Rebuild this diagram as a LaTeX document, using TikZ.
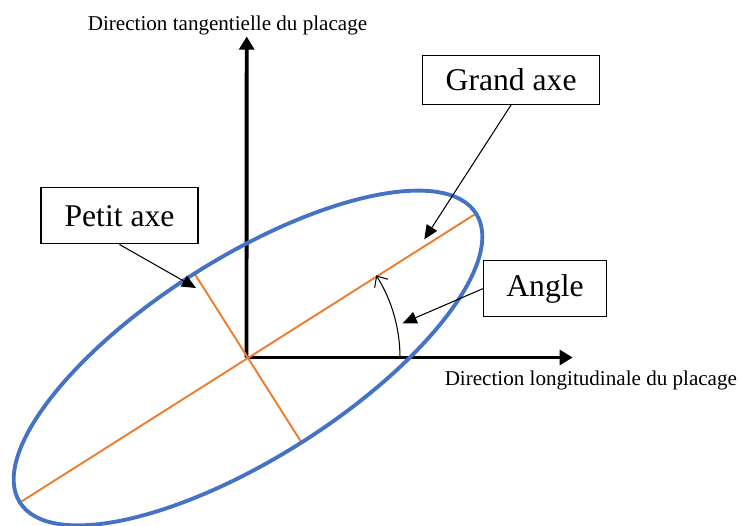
\documentclass[tikz,border=0pt]{standalone}
\usepackage{fontspec}
\setmainfont{Liberation Serif}
\usetikzlibrary{arrows.meta}
\definecolor{axblue}{HTML}{4472C4}
\definecolor{axorange}{HTML}{ED7D31}

\begin{document}
\begin{tikzpicture}[
  font=\fontsize{12}{14}\selectfont,
  axis/.style={line width=2.2pt,-{Triangle[length=7.5pt,width=8.5pt]}},
  box/.style={draw,line width=0.6pt,inner sep=0pt,font=\fontsize{18}{21}\selectfont},
  call/.style={line width=0.6pt,-{Triangle[length=8pt,width=7pt]}},
  half/.style={axorange,line width=1.1pt}]
  \useasboundingbox (0,0) rectangle (14.82,10.5);
  \coordinate (o) at (4.93,3.35);
  \coordinate (c) at (4.96,3.34);
  \coordinate (yt) at (4.934,9.77); \coordinate (xt) at (11.454,3.35);
  \coordinate (ga1) at ([shift={(212.35:5.36)}]c); \coordinate (ga2) at ([shift={(32.35:5.36)}]c);
  \coordinate (pa1) at ([shift={(122.35:1.97)}]c); \coordinate (pa2) at ([shift={(-57.65:1.97)}]c);
  \draw[axis] (o) -- (yt);
  \draw[axis] (o) -- (xt);
  \draw[half] (ga1) -- (ga2);
  \draw[half] (pa1) -- (pa2);
  \draw[axblue,line width=2.2pt,rotate=32.35] (c) ellipse (5.4 and 2.0);
  % angle
  \coordinate (a0) at ([shift={(0:3.07)}]o);
  \draw[line width=0.6pt,-{Straight Barb[length=5pt,width=9pt]}] (a0) arc[start angle=0,end angle=32.35,radius=3.07];
  \node[anchor=base] (ty) at (4.55,9.886) {Direction tangentielle du placage};
  \node[anchor=base] (lx) at (11.817,2.8) {Direction longitudinale du placage};
  \node[box,minimum width=3.55cm,minimum height=0.97cm] (ga) at (10.223,8.9) {Grand axe};
  \node[box,minimum width=3.14cm,minimum height=1.13cm] (pa) at (2.39,6.186) {Petit axe};
  \node[box,minimum width=2.47cm,minimum height=1.12cm] (an) at (10.9,4.726) {Angle};
  \coordinate (gat) at (8.486,5.714);
  \coordinate (pat) at (3.92,4.74);
  \coordinate (ant) at (8.054,4.034);
  \draw[call] (ga.south) -- (gat);
  \draw[call] (pa.south) -- (pat);
  \draw[call] (an.west) -- (ant);
\end{tikzpicture}
\end{document}
